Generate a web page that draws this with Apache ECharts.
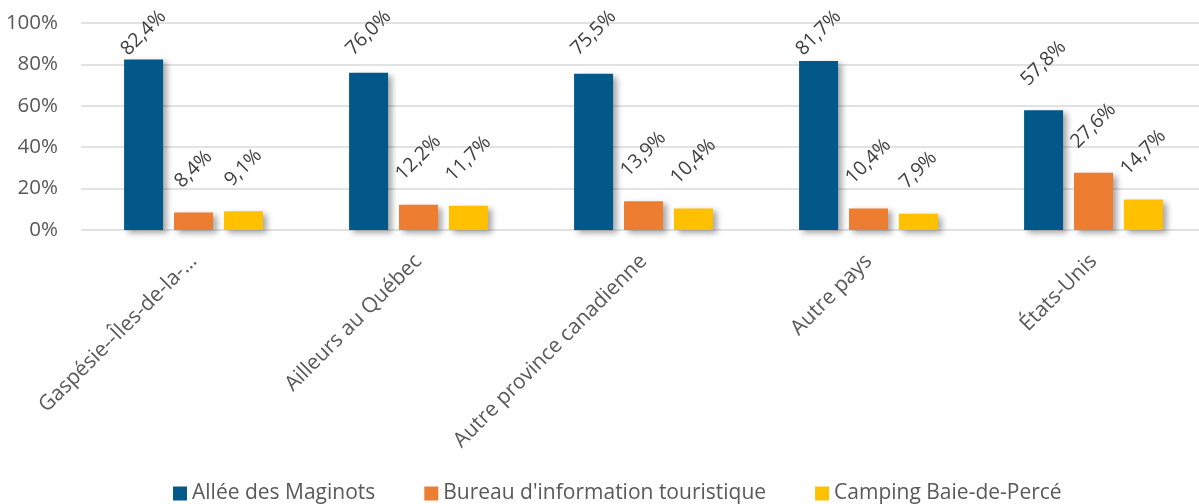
<!DOCTYPE html>
<html>
<head>
<meta charset="utf-8">
<script src="https://cdn.jsdelivr.net/npm/echarts@6/dist/echarts.min.js"></script>
<style>
  html, body { margin: 0; padding: 0; background: #fff; }
  #chart { width: 1199px; height: 504px; }
</style>
</head>
<body>
<div id="chart"></div>
<script>
const categories = ['Gaspésie--Îles-de-la-…', 'Ailleurs au Québec', 'Autre province canadienne', 'Autre pays', 'États-Unis']
const seriesNames = ['Allée des Maginots', "Bureau d'information touristique", 'Camping Baie-de-Percé']
const allee = [82.4, 76.0, 75.5, 81.7, 57.8]
const bureau = [8.4, 12.2, 13.9, 10.4, 27.6]
const camping = [9.1, 11.7, 10.4, 7.9, 14.7]
const colors = ['#03588A', '#ED7D31', '#FFC000']

const fontFamily = '"Open Sans", sans-serif'
const fmt = (v) => v.toFixed(1).replace('.', ',') + '%'
const barW = 39
const barGapPx = barW * 0.28
const seriesData = [allee, bureau, camping]

function makeSeries(name, data, color) {
  return {
    name: name,
    type: 'bar',
    data: data,
    barWidth: barW,
    barGap: '28%',
    itemStyle: {
      color: color,
      shadowColor: 'rgba(0,0,0,0.35)',
      shadowBlur: 6,
      shadowOffsetX: 4,
      shadowOffsetY: 3
    }
  }
}

// étiquettes tournées à 45° au-dessus des barres (série custom pour maîtriser la rotation)
const labelData = []
seriesData.forEach((d, s) => d.forEach((v, i) => labelData.push([i, v, s])))

const labelSeries = {
  type: 'custom',
  name: 'etiquettes',
  data: labelData,
  encode: { x: 0, y: 1 },
  z: 5,
  silent: true,
  renderItem: (params, api) => {
    const v = api.value(1)
    const s = api.value(2)
    const p = api.coord([api.value(0), v])
    const txt = fmt(v)
    const want = 29 + 3.6 * txt.length
    return {
      type: 'text',
      x: p[0] + (s - 1) * (barW + barGapPx),
      y: Math.max(p[1] - want, 33),
      rotation: Math.PI / 4,
      style: {
        text: txt,
        align: 'center',
        verticalAlign: 'middle',
        fill: '#404040',
        font: '19.5px ' + fontFamily
      }
    }
  }
}

let option = {
  animation: false,
  grid: {
    left: 81,
    top: 23,
    width: 1125,
    bottom: 274,
    outerBoundsMode: 'none'
  },
  xAxis: {
    type: 'category',
    data: categories,
    axisTick: { show: false },
    axisLine: { show: false },
    axisLabel: {
      rotate: 45,
      margin: 28,
      interval: 0,
      color: '#595959',
      fontFamily: fontFamily,
      fontSize: 21
    }
  },
  yAxis: {
    type: 'value',
    min: 0,
    max: 100,
    interval: 20,
    axisLabel: {
      formatter: '{value}%',
      margin: 23,
      color: '#595959',
      fontFamily: fontFamily,
      fontSize: 20.5
    },
    splitLine: {
      lineStyle: { color: '#d9d9d9', width: 1.5 }
    }
  },
  legend: {
    data: seriesNames,
    left: 168,
    top: 478,
    icon: 'rect',
    itemWidth: 14,
    itemHeight: 14,
    itemGap: 49,
    textStyle: {
      color: '#595959',
      fontFamily: fontFamily,
      fontSize: 21
    }
  },
  series: seriesData.map((d, i) => makeSeries(seriesNames[i], d, colors[i])).concat([labelSeries])
}

var myChart = echarts.init(document.getElementById('chart'))
myChart.setOption(option)
</script>
</body>
</html>
